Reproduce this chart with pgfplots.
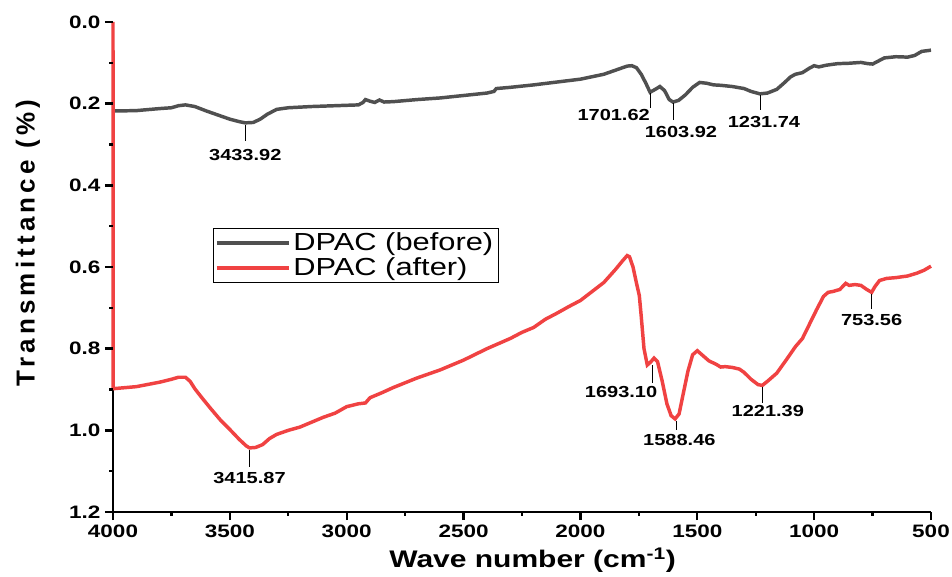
\documentclass[border=0pt]{standalone}
\usepackage{fontspec}
\setmainfont[FakeStretch=1.25]{Liberation Sans}
\newfontfamily\ylabfont[LetterSpace=16]{Liberation Sans}
\usepackage{pgfplots}
\usepackage{pgfplotstable}
\pgfplotsset{compat=1.18}
\definecolor{before}{RGB}{80,80,80}
\definecolor{after}{RGB}{240,66,66}
% wave number (cm^-1), transmittance
\pgfplotstableread{
x y
4000 0.218
3900 0.217
3800 0.212
3750 0.210
3720 0.205
3690 0.203
3650 0.207
3600 0.218
3550 0.228
3500 0.238
3460 0.244
3434 0.247
3400 0.246
3370 0.238
3340 0.226
3300 0.214
3250 0.210
3150 0.207
3050 0.205
2950 0.203
2930 0.197
2920 0.190
2900 0.194
2880 0.197
2860 0.191
2840 0.196
2800 0.195
2700 0.190
2600 0.186
2500 0.180
2400 0.174
2370 0.170
2360 0.163
2300 0.160
2200 0.154
2100 0.147
2000 0.140
1900 0.128
1850 0.118
1800 0.108
1780 0.107
1760 0.112
1740 0.128
1720 0.150
1702 0.172
1680 0.165
1660 0.158
1640 0.168
1620 0.190
1604 0.196
1580 0.192
1550 0.178
1520 0.160
1490 0.148
1460 0.150
1430 0.154
1400 0.155
1350 0.158
1300 0.163
1270 0.170
1232 0.176
1200 0.174
1160 0.165
1130 0.150
1100 0.134
1080 0.128
1050 0.124
1020 0.113
1000 0.107
980 0.110
950 0.106
900 0.102
850 0.101
800 0.099
770 0.102
750 0.103
720 0.094
700 0.088
650 0.085
600 0.086
570 0.082
540 0.072
500 0.069
}\before
\pgfplotstableread{
x y
4000 0.0
3999 0.898
3900 0.893
3800 0.882
3750 0.875
3720 0.870
3690 0.870
3670 0.880
3650 0.898
3620 0.920
3580 0.948
3540 0.975
3500 0.998
3460 1.022
3430 1.038
3416 1.043
3390 1.042
3360 1.035
3330 1.020
3300 1.010
3250 1.000
3200 0.992
3150 0.980
3100 0.968
3050 0.958
3000 0.942
2950 0.935
2920 0.933
2900 0.920
2850 0.908
2800 0.895
2700 0.872
2600 0.852
2500 0.828
2400 0.800
2300 0.775
2250 0.760
2200 0.748
2150 0.728
2100 0.713
2050 0.697
2000 0.682
1950 0.660
1900 0.638
1850 0.606
1820 0.585
1800 0.572
1790 0.575
1775 0.600
1760 0.640
1748 0.670
1740 0.720
1728 0.800
1714 0.840
1700 0.833
1685 0.823
1670 0.832
1650 0.880
1630 0.935
1612 0.964
1595 0.972
1578 0.960
1560 0.910
1540 0.855
1520 0.815
1500 0.805
1480 0.815
1450 0.830
1420 0.838
1400 0.845
1380 0.844
1350 0.846
1320 0.850
1300 0.858
1270 0.875
1240 0.888
1222 0.890
1200 0.880
1160 0.860
1120 0.828
1080 0.795
1050 0.775
1020 0.740
990 0.705
960 0.672
940 0.662
920 0.660
890 0.655
865 0.640
850 0.645
825 0.643
800 0.645
775 0.655
754 0.662
740 0.648
720 0.633
690 0.628
650 0.626
600 0.622
560 0.615
530 0.608
500 0.598
}\after
\begin{document}
\begin{tikzpicture}
\begin{axis}[
  scale only axis, width=613.5pt, height=367.5pt,
  xmin=-4000, xmax=-500, ymin=-1.2, ymax=0,
  clip=false,
  axis x line*=bottom, axis y line*=left,
  axis line style={-, line width=2.2pt},
  xtick={-4000,-3500,-3000,-2500,-2000,-1500,-1000,-500},
  xticklabels={4000,3500,3000,2500,2000,1500,1000,500},
  ytick={-1.2,-1.0,-0.8,-0.6,-0.4,-0.2,0},
  yticklabels={1.2,1.0,0.8,0.6,0.4,0.2,0.0},
  tick align=outside, major tick length=6pt,
  major tick style={black, line width=1.8pt},
  ticklabel style={font=\fontsize{13.5}{16}\selectfont\bfseries},
  xlabel={Wave number (cm\textsuperscript{-1})},
  ylabel={\ylabfont\bfseries Transmittance (\%)},
  xlabel style={font=\fontsize{18}{21}\selectfont\bfseries, at={(axis description cs:0.513,-0.098)}, anchor=center},
  ylabel style={font=\fontsize{19.5}{22}\selectfont\bfseries, at={(axis description cs:-0.104,0.549)}, anchor=center},
  legend style={at={(axis description cs:0.122,0.580)}, anchor=north west, draw=black, line width=0.6pt,
    font=\fontsize{18.5}{21}\selectfont, inner sep=1.5pt, row sep=0pt, cells={anchor=west}},
  legend image code/.code={\draw[#1] (0pt,0pt) -- (54pt,0pt);},
]
\addplot[before, line width=2.6pt] table[x expr=-\thisrow{x}, y expr=-\thisrow{y}] {\before};
\addlegendentry{DPAC (before)}
\addplot[after, line width=2.6pt] table[x expr=-\thisrow{x}, y expr=-\thisrow{y}] {\after};
\addlegendentry{DPAC (after)}
% tick marks
\pgfplotsinvokeforeach{-4000,-3500,-3000,-2500,-2000,-1500,-1000,-500}{
  \draw[black, line width=1.8pt] (axis cs:#1,-1.2) -- ++(0pt,-6pt);}
\pgfplotsinvokeforeach{-3750,-3250,-2750,-2250,-1750,-1250,-750}{
  \draw[black, line width=1.8pt] (axis cs:#1,-1.2) -- ++(0pt,-3pt);}
\pgfplotsinvokeforeach{-1.2,-1.0,-0.8,-0.6,-0.4,-0.2,0}{
  \draw[black, line width=1.8pt] (axis cs:-4000,#1) -- ++(-6pt,0pt);}
\pgfplotsinvokeforeach{-1.1,-0.9,-0.7,-0.5,-0.3,-0.1}{
  \draw[black, line width=1.8pt] (axis cs:-4000,#1) -- ++(-3pt,0pt);}
\tikzset{lab/.style={font=\fontsize{12}{14}\selectfont\bfseries, inner sep=0pt}}
\draw[line width=0.6pt] (axis cs:-3434,-0.252) -- (axis cs:-3434,-0.292);
\node[lab] at (axis cs:-3434,-0.326) {3433.92};
\draw[line width=0.6pt] (axis cs:-1702,-0.175) -- (axis cs:-1702,-0.21);
\node[lab, anchor=east] at (axis cs:-1702,-0.228) {1701.62};
\draw[line width=0.6pt] (axis cs:-1604,-0.199) -- (axis cs:-1604,-0.24);
\node[lab, xshift=6pt] at (axis cs:-1604,-0.269) {1603.92};
\draw[line width=0.6pt] (axis cs:-1232,-0.179) -- (axis cs:-1232,-0.215);
\node[lab, xshift=3pt] at (axis cs:-1232,-0.245) {1231.74};
\draw[line width=0.6pt] (axis cs:-3416,-1.047) -- (axis cs:-3416,-1.09);
\node[lab] at (axis cs:-3416,-1.117) {3415.87};
\draw[line width=0.6pt] (axis cs:-1693,-0.84) -- (axis cs:-1693,-0.885);
\node[lab, anchor=east, xshift=4pt] at (axis cs:-1693,-0.906) {1693.10};
\draw[line width=0.6pt] (axis cs:-1588,-0.976) -- (axis cs:-1588,-1.0);
\node[lab, xshift=2pt] at (axis cs:-1588,-1.024) {1588.46};
\draw[line width=0.6pt] (axis cs:-1221,-0.893) -- (axis cs:-1221,-0.932);
\node[lab, xshift=4pt] at (axis cs:-1221,-0.952) {1221.39};
\draw[line width=0.6pt] (axis cs:-754,-0.665) -- (axis cs:-754,-0.703);
\node[lab] at (axis cs:-754,-0.73) {753.56};
\end{axis}
\pgfresetboundingbox
\path ([shift={(-84.75pt,-48pt)}]current axis.south west) rectangle ([shift={(15.75pt,16.5pt)}]current axis.north east);
\end{tikzpicture}
\end{document}
